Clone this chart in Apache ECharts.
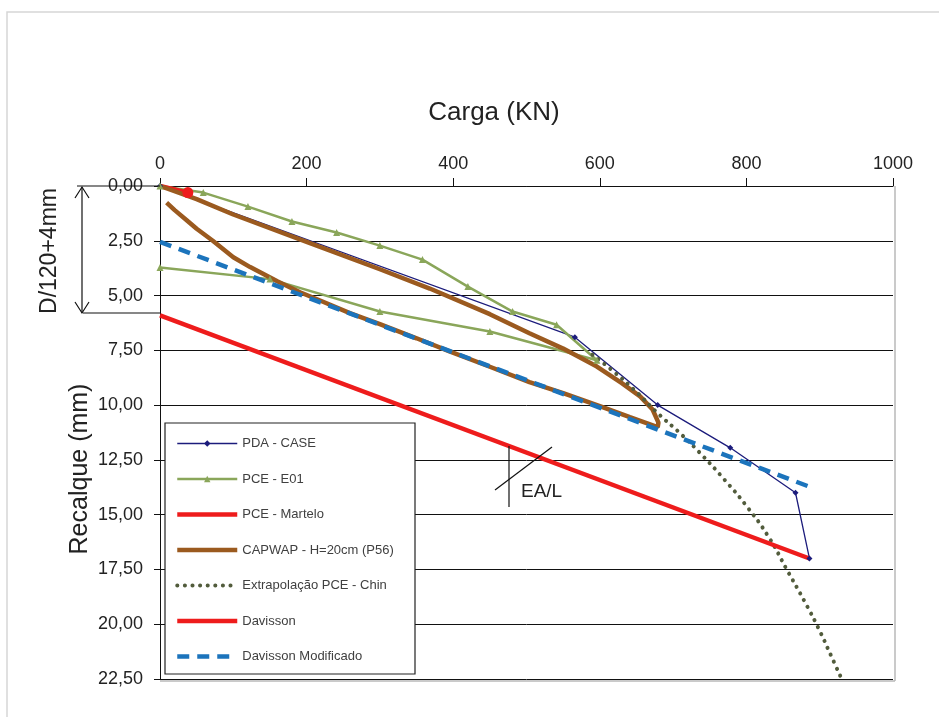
<!DOCTYPE html>
<html><head><meta charset="utf-8">
<script src="https://cdn.jsdelivr.net/npm/echarts@6/dist/echarts.min.js"></script>
<style>html,body{margin:0;padding:0;background:#fff}#c{width:939px;height:717px}</style>
</head><body><div id="c"></div>
<script>
// ---- data (Carga kN, Recalque mm) ----
var xTicks = [0, 200, 400, 600, 800, 1000];
var yTicks = [0, 2.5, 5, 7.5, 10, 12.5, 15, 17.5, 20, 22.5];

var pdaX = [0, 566, 679, 778, 867, 886];
var pdaY = [0, 6.9, 10.0, 11.95, 14.0, 17.0];

var e01X = [0, 59, 120, 180, 241, 300, 358, 420, 481, 541, 596, 450, 300, 150, 0];
var e01Y = [0, 0.3, 0.94, 1.62, 2.12, 2.72, 3.36, 4.59, 5.73, 6.33, 7.95, 6.64, 5.73, 4.25, 3.72];

var martX = [0, 38];
var martY = [0, 0.3];

var capX = [0, 50, 100, 200, 300, 368, 450, 504, 550, 596, 630, 655, 672, 680, 679,
            641, 600, 550, 504, 450, 395, 350, 300, 259, 220, 191, 160, 123, 100, 72, 50, 36, 20, 9];
var capY = [0, 0.6, 1.3, 2.55, 3.8, 4.68, 5.85, 6.72, 7.42, 8.24, 9.0, 9.6, 10.2, 10.8, 11.0,
            10.55, 10.05, 9.45, 8.95, 8.25, 7.55, 6.95, 6.3, 5.8, 5.25, 4.85, 4.35, 3.7, 3.25, 2.5, 1.95, 1.55, 1.1, 0.76];

var chinX = [590, 620, 650, 680, 710, 740, 770, 800, 830, 855, 880, 900, 915, 930];
var chinY = [7.7, 8.5, 9.4, 10.4, 11.3, 12.3, 13.4, 14.6, 16.0, 17.5, 19.0, 20.3, 21.4, 22.5];

var davX = [0, 886];
var davY = [5.9, 17.0];

var modX = [0, 888];
var modY = [2.55, 13.75];

var names = ['PDA - CASE', 'PCE - E01', 'PCE - Martelo', 'CAPWAP - H=20cm (P56)', 'Extrapolação PCE - Chin', 'Davisson', 'Davisson Modificado'];
var legendMarker = [true, true, false, false, false, false, false];

function zip(xs, ys) { return xs.map(function (x, i) { return [x, ys[i]]; }); }

var chart = echarts.init(document.getElementById('c'));
var FONT = 'Liberation Sans, Arial, sans-serif';

var martData = zip(martX, martY).map(function (p, i) {
  return i === martX.length - 1 ? { value: p } : { value: p, symbol: 'none' };
});

var legendData = names.map(function (n, i) {
  return legendMarker[i] ? { name: n } : { name: n, itemStyle: { color: 'rgba(0,0,0,0)', opacity: 0, borderWidth: 0 } };
});

chart.setOption({
  animation: false,
  backgroundColor: '#fff',
  textStyle: { fontFamily: FONT },
  grid: { left: 160, top: 186, right: 46, bottom: 38 },
  xAxis: {
    type: 'value', position: 'top', min: xTicks[0], max: xTicks[xTicks.length - 1], interval: 200,
    axisLine: { show: true, lineStyle: { color: '#111', width: 1 } },
    axisTick: { show: true, length: 8, lineStyle: { color: '#111' } },
    axisLabel: { fontSize: 18, color: '#222', margin: 13, fontFamily: FONT,
      formatter: function (v) { return String(v); } },
    splitLine: { show: false }
  },
  yAxis: {
    type: 'value', inverse: true, min: yTicks[0], max: yTicks[yTicks.length - 1], interval: 2.5,
    axisLine: { show: true, lineStyle: { color: '#111', width: 1 } },
    axisTick: { show: true, length: 6, lineStyle: { color: '#111' } },
    axisLabel: { fontSize: 18, color: '#222', margin: 17, fontFamily: FONT,
      formatter: function (v) { return v.toFixed(2).replace('.', ','); } },
    splitLine: { show: true, lineStyle: { color: '#111', width: 1 } }
  },
  legend: {
    orient: 'vertical', left: 175, top: 437, itemWidth: 60, itemHeight: 8, itemGap: 22.5,
    padding: 0, z: 5,
    lineStyle: { width: 'inherit' },
    textStyle: { fontSize: 13, color: '#404040', fontFamily: FONT },
    data: legendData
  },
  graphic: [
    { type: 'rect', z: 0, shape: { x: 7, y: 12, width: 940, height: 720 }, style: { fill: 'none', stroke: '#d6d6d6', lineWidth: 1.5 } },
    { type: 'line', z: 1, shape: { x1: 895, y1: 186, x2: 895, y2: 681 }, style: { stroke: '#b8b8b8', lineWidth: 1.5 } },
    { type: 'line', z: 1, shape: { x1: 160, y1: 681, x2: 895, y2: 681 }, style: { stroke: '#b8b8b8', lineWidth: 1.5 } },
    { type: 'rect', z: 3, shape: { x: 165, y: 423, width: 250, height: 251 }, style: { fill: '#fff', stroke: '#222', lineWidth: 1.2 } },
    { type: 'text', z: 5, x: 494, y: 113, style: { text: 'Carga (KN)', font: '26px ' + FONT, fill: '#222', textAlign: 'center', textVerticalAlign: 'middle' } },
    { type: 'text', z: 5, x: 80, y: 469, rotation: Math.PI / 2, style: { text: 'Recalque (mm)', font: '25px ' + FONT, fill: '#222', textAlign: 'center', textVerticalAlign: 'middle' } },
    { type: 'text', z: 5, x: 50, y: 251, rotation: Math.PI / 2, style: { text: 'D/120+4mm', font: '23px ' + FONT, fill: '#222', textAlign: 'center', textVerticalAlign: 'middle' } },
    { type: 'polyline', z: 5, shape: { points: [[77, 186], [160, 186]] }, style: { stroke: '#111', lineWidth: 1.2, fill: 'none' } },
    { type: 'polyline', z: 5, shape: { points: [[83, 313], [160, 313]] }, style: { stroke: '#111', lineWidth: 1.2, fill: 'none' } },
    { type: 'polyline', z: 5, shape: { points: [[82, 187], [82, 313]] }, style: { stroke: '#111', lineWidth: 1.2, fill: 'none' } },
    { type: 'polyline', z: 5, shape: { points: [[75, 198], [82, 187], [89, 198]] }, style: { stroke: '#111', lineWidth: 1.2, fill: 'none' } },
    { type: 'polyline', z: 5, shape: { points: [[75, 302], [82, 313], [89, 302]] }, style: { stroke: '#111', lineWidth: 1.2, fill: 'none' } },
    { type: 'polyline', z: 5, shape: { points: [[509, 446], [509, 507]] }, style: { stroke: '#111', lineWidth: 1.2, fill: 'none' } },
    { type: 'polyline', z: 5, shape: { points: [[495, 490], [552, 447]] }, style: { stroke: '#111', lineWidth: 1.2, fill: 'none' } },
    { type: 'text', z: 5, x: 521, y: 492, style: { text: 'EA/L', font: '19px ' + FONT, fill: '#222', textAlign: 'left', textVerticalAlign: 'middle' } }
  ],
  series: [
    { name: names[0], type: 'line', data: zip(pdaX, pdaY), symbol: 'diamond', symbolSize: 6,
      lineStyle: { color: '#1c1c7c', width: 1.3 }, itemStyle: { color: '#1c1c7c' }, z: 2 },
    { name: names[1], type: 'line', data: zip(e01X, e01Y), symbol: 'triangle', symbolSize: 7,
      lineStyle: { color: '#8aa65a', width: 2.5 }, itemStyle: { color: '#8aa65a' }, z: 2 },
    { name: names[2], type: 'line', data: martData, symbol: 'circle', symbolSize: 11,
      lineStyle: { color: '#ee1c1c', width: 4.5 }, itemStyle: { color: '#ee1c1c' }, z: 2 },
    { name: names[3], type: 'line', data: zip(capX, capY), symbol: 'none',
      lineStyle: { color: '#9b5a1f', width: 4.5 }, itemStyle: { color: '#9b5a1f' }, z: 2 },
    { name: names[4], type: 'line', data: zip(chinX, chinY), symbol: 'none', smooth: true,
      lineStyle: { color: '#525c3c', width: 4, type: [0.1, 7.5], cap: 'round' }, itemStyle: { color: '#525c3c' }, z: 2 },
    { name: names[5], type: 'line', data: zip(davX, davY), symbol: 'none',
      lineStyle: { color: '#ee1c1c', width: 4.5 }, itemStyle: { color: '#ee1c1c' }, z: 2 },
    { name: names[6], type: 'line', data: zip(modX, modY), symbol: 'none',
      lineStyle: { color: '#1c74bc', width: 4.5, type: [12, 8] }, itemStyle: { color: '#1c74bc' }, z: 2 }
  ]
});
</script>
</body></html>
